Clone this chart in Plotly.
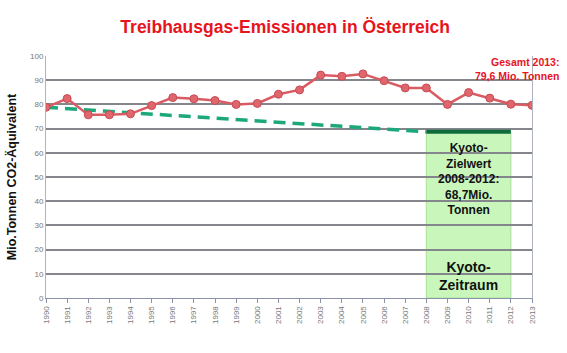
import plotly.graph_objects as go

years = list(range(1990, 2014))
emissions = [78.8, 82.4, 75.7, 75.7, 76.1, 79.5, 82.8, 82.3, 81.6, 80.0, 80.4, 84.2, 86.0, 92.1, 91.6, 92.6, 89.8, 86.8, 86.8, 80.0, 84.9, 82.6, 80.1, 79.6]
target_years = [1990, 2008]
target_values = [78.8, 68.7]
kyoto_years = [2008, 2012]
kyoto_target = [68.7, 68.7]
y_ticks = list(range(0, 101, 10))

fig = go.Figure()

# Kyoto period box
fig.add_shape(type="rect", xref="x", yref="y", x0=kyoto_years[0], x1=kyoto_years[1],
              y0=0, y1=kyoto_target[0], fillcolor="#c9f7bb",
              line=dict(color="#a8dd98", width=1), layer="below")

fig.add_trace(go.Scatter(x=target_years, y=target_values, mode="lines",
                         line=dict(color="#1da87c", width=3.5, dash="12px,7px"),
                         hoverinfo="skip", showlegend=False))
fig.add_trace(go.Scatter(x=kyoto_years, y=kyoto_target, mode="lines",
                         line=dict(color="#0d6b3c", width=4),
                         hoverinfo="skip", showlegend=False))
fig.add_trace(go.Scatter(x=years, y=emissions, mode="lines+markers",
                         line=dict(color="#d95b63", width=2.5),
                         marker=dict(size=8, color="#e0666d", line=dict(color="#c94a52", width=1)),
                         showlegend=False))

fig.add_annotation(x=2010, y=65.5, xref="x", yref="y", yanchor="top",
                   text="<b>Kyoto-<br>Zielwert<br>2008-2012:<br>68,7Mio.<br>Tonnen</b>",
                   showarrow=False, font=dict(family="Liberation Sans, Arial", size=12, color="#111"))
fig.add_annotation(x=2010, y=9.0, xref="x", yref="y", yanchor="middle",
                   text="<b>Kyoto-<br>Zeitraum</b>",
                   showarrow=False, font=dict(family="Liberation Sans, Arial", size=14, color="#111"))
fig.add_annotation(x=(561 - 46) / (567 - 46 - 35), y=1 + (56 - 54) / 242.0,
                   xref="paper", yref="paper", xanchor="right", yanchor="top",
                   text="<b>Gesamt 2013:<br>79,6 Mio. Tonnen</b>", align="right",
                   showarrow=False, font=dict(family="Liberation Sans, Arial", size=10.5, color="#e8141c"))

fig.update_layout(
    width=567, height=353,
    margin=dict(l=46, r=35, t=56, b=55),
    paper_bgcolor="white", plot_bgcolor="white",
    title=dict(text="<b>Treibhausgas-Emissionen in Österreich</b>", x=0.503, xanchor="center",
               y=0.925, yanchor="middle",
               font=dict(family="Liberation Sans, Arial", size=17.5, color="#e8141c")),
    xaxis=dict(range=[1990, 2013], tickmode="array", tickvals=years,
               ticktext=[str(y) for y in years], tickangle=-90,
               tickfont=dict(family="Liberation Sans, Arial", size=8, color="#777"),
               showgrid=False, showline=True, linecolor="#8a93a8", linewidth=1,
               ticks="outside", ticklen=4, tickcolor="#8a93a8", zeroline=False),
    yaxis=dict(range=[0, 100], tickmode="array", tickvals=y_ticks,
               tickfont=dict(family="Liberation Sans, Arial", size=8, color="#777"),
               showgrid=True, gridcolor="#85858c", gridwidth=1.5,
               showline=True, linecolor="#b0b4c0", linewidth=1, mirror=True,
               zeroline=False, ticks="",
               title=dict(text="<b>Mio.Tonnen CO2-Äquivalent</b>", standoff=10,
                          font=dict(family="Liberation Sans, Arial", size=12.5, color="#111"))),
)

fig.write_html("out.html")
